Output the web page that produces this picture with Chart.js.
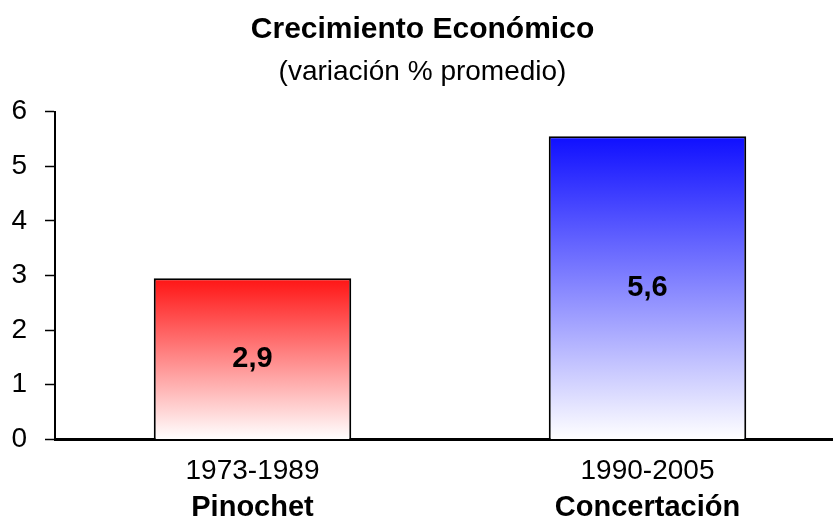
<!DOCTYPE html>
<html>
<head>
<meta charset="utf-8">
<script src="https://cdn.jsdelivr.net/npm/chart.js@4.4.1/dist/chart.umd.min.js"></script>
<style>
    html, body { margin: 0; padding: 0; background: #fff; overflow: hidden; }
    #wrap { width: 833px; height: 530px; overflow: hidden; }
</style>
</head>
<body>
<div id="wrap"><canvas id="growthChart" width="845" height="530"></canvas></div>
<script>
// Chart data
const periods = ['1973-1989', '1990-2005'];
const governments = ['Pinochet', 'Concertación'];
const growth = [2.95, 5.55];
const growthLabels = ['2,9', '5,6'];
const yTicks = [0, 1, 2, 3, 4, 5, 6];

const FONT = 'Arial, "Liberation Sans", sans-serif';

const topColors = ['rgb(255, 20, 20)', 'rgb(15, 15, 255)'];

function barGradient(context) {
    const chart = context.chart;
    if (!chart.chartArea) return topColors[context.dataIndex];
    const y = chart.scales.y;
    const top = y.getPixelForValue(context.raw);
    const bottom = y.getPixelForValue(0);
    const g = chart.ctx.createLinearGradient(0, top, 0, bottom);
    g.addColorStop(0, topColors[context.dataIndex]);
    g.addColorStop(1, 'rgb(255, 255, 255)');
    return g;
}

// value labels in the middle of each bar, plus the bold government row under the periods
const extraLabels = {
    id: 'extraLabels',
    afterDatasetsDraw(chart) {
        const ctx = chart.ctx;
        const meta = chart.getDatasetMeta(0);
        const xScale = chart.scales.x;
        ctx.save();
        ctx.font = 'bold 29px ' + FONT;
        ctx.fillStyle = '#000';
        ctx.textAlign = 'center';
        ctx.textBaseline = 'middle';
        meta.data.forEach((bar, i) => {
            const mid = (bar.y + bar.base) / 2;
            ctx.fillText(growthLabels[i], bar.x, mid);
        });
        governments.forEach((name, i) => {
            ctx.fillText(name, xScale.getPixelForTick(i), chart.chartArea.bottom + 69);
        });
        ctx.restore();
    }
};

const growthCtx = document.getElementById('growthChart').getContext('2d');
new Chart(growthCtx, {
    type: 'bar',
    data: {
        labels: periods,
        datasets: [{
            data: growth,
            backgroundColor: barGradient,
            borderColor: '#000',
            borderWidth: 2,
            borderSkipped: 'bottom',
            barPercentage: 0.5,
            categoryPercentage: 1.0
        }]
    },
    plugins: [extraLabels],
    options: {
        responsive: false,
        animation: false,
        layout: {
            padding: { left: 0, right: 0, top: 0, bottom: 27 }
        },
        plugins: {
            legend: { display: false },
            tooltip: { enabled: false },
            title: {
                display: true,
                text: 'Crecimiento Económico',
                color: '#000',
                font: { family: FONT, size: 30, weight: 'bold' },
                padding: { top: 12, bottom: 0 }
            },
            subtitle: {
                display: true,
                text: '(variación % promedio)',
                color: '#000',
                font: { family: FONT, size: 28 },
                padding: { top: 7, bottom: 23 }
            }
        },
        scales: {
            x: {
                offset: true,
                grid: { display: false, drawTicks: false },
                border: { display: true, color: '#000', width: 3 },
                ticks: {
                    color: '#000',
                    font: { family: FONT, size: 28 },
                    padding: 15
                }
            },
            y: {
                min: 0,
                max: 6,
                afterBuildTicks: (axis) => {
                    axis.ticks = yTicks.map(v => ({ value: v }));
                },
                afterFit: (axis) => {
                    axis.width = 55;
                },
                grid: {
                    display: true,
                    drawOnChartArea: false,
                    drawTicks: true,
                    tickLength: 10,
                    tickColor: '#000',
                    tickWidth: 1.5
                },
                border: { display: true, color: '#000', width: 2 },
                ticks: {
                    color: '#000',
                    font: { family: FONT, size: 28 },
                    padding: 18
                }
            }
        }
    }
});
</script>
</body>
</html>
